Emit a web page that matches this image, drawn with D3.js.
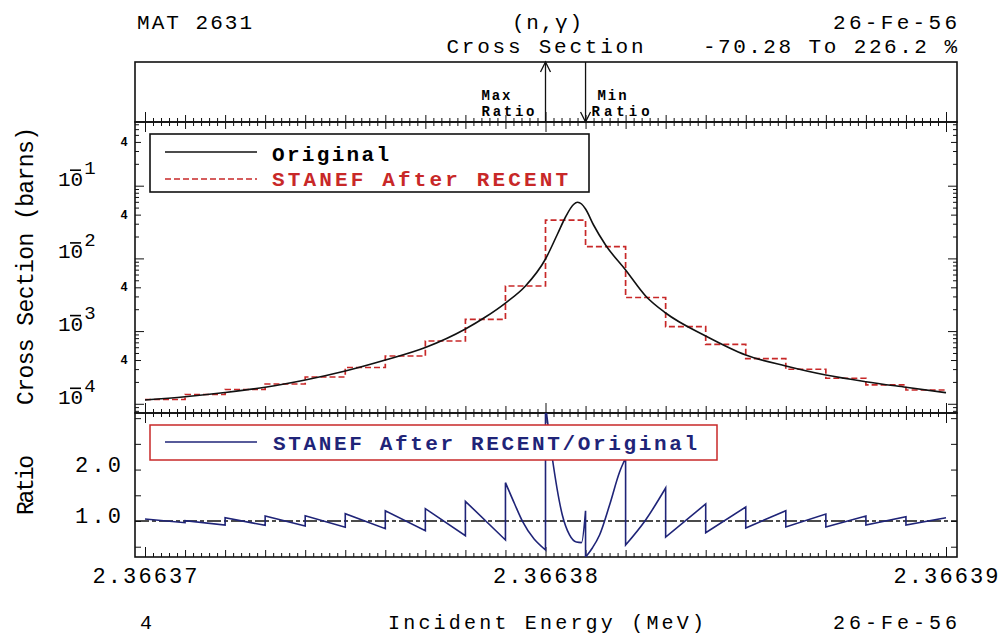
<!DOCTYPE html>
<html><head><meta charset="utf-8">
<script src="https://cdn.jsdelivr.net/npm/d3@7"></script>
<style>body{margin:0;background:#fff}</style>
</head><body><svg id="c" width="1003" height="640"></svg>
<script>
// ---------------- data ----------------
const headerLeft = "MAT 2631";
const headerReaction = "(n,\u03b3)";
const headerQuantity = "Cross Section";
const headerMaterial = "26-Fe-56";
const xTitle = "Incident Energy (MeV)";
const yTitleMain = "Cross Section (barns)";
const yTitleRatio = "Ratio";
const pageNumber = "4";

const energyTicks = [2.36637, 2.36638, 2.36639];
const energyTickLabels = ["2.36637", "2.36638", "2.36639"];
const xsDecades = [1e-1, 1e-2, 1e-3, 1e-4];
const xsDecadeExp = ["1", "2", "3", "4"];
const ratioTicks = [0.5, 1.0, 1.5, 2.0, 2.5, 3.0];
const ratioTickLabels = [[2.0, "2.0"], [1.0, "1.0"]];

// group structure of the STANEF (after RECENT) multigroup cross section
const groupEdges = [2.3663700, 2.3663710, 2.3663720, 2.3663730, 2.3663740, 2.3663750, 2.3663760,
  2.3663770, 2.3663780, 2.3663790, 2.3663800, 2.3663810, 2.3663820, 2.3663830, 2.3663840,
  2.3663850, 2.3663860, 2.3663870, 2.3663880, 2.3663890, 2.3663900];
const stanefXS = [1.146e-4, 1.343e-4, 1.573e-4, 1.872e-4, 2.337e-4, 3.155e-4, 4.545e-4, 7.31e-4,
  1.453e-3, 4.17e-3, 3.37e-2, 1.449e-2, 2.90e-3, 1.150e-3, 6.58e-4, 4.17e-4, 2.985e-4,
  2.244e-4, 1.815e-4, 1.549e-4];

// original pointwise cross section
const originalEnergy = [2.3663700, 2.3663710, 2.3663720, 2.3663730, 2.3663740, 2.3663750, 2.3663760,
  2.3663770, 2.3663780, 2.36637850, 2.3663790, 2.36637950, 2.3663800, 2.36638030, 2.36638050,
  2.36638070, 2.36638080, 2.36638090, 2.3663810, 2.36638120, 2.36638150, 2.3663820, 2.36638250,
  2.3663830, 2.3663840, 2.3663850, 2.3663860, 2.3663870, 2.3663880, 2.3663890, 2.3663900];
const originalXS = [1.128e-4, 1.252e-4, 1.430e-4, 1.687e-4, 2.125e-4, 2.827e-4, 4.004e-4,
  5.949e-4, 1.069e-3, 1.563e-3, 2.434e-3, 4.173e-3, 9.81e-3, 2.166e-2, 3.711e-2,
  5.512e-2, 5.910e-2, 5.60e-2, 4.78e-2, 2.880e-2, 1.529e-2, 6.925e-3, 3.040e-3,
  1.774e-3, 8.56e-4, 4.69e-4, 3.311e-4, 2.489e-4, 2.014e-4, 1.687e-4, 1.421e-4];

// ratio STANEF/Original, one list of [energy, ratio] per group
const ratioSegments = [
  [[2.3663700, 1.040], [2.3663710, 0.967]],
  [[2.3663710, 1.006], [2.3663720, 0.922]],
  [[2.3663720, 1.064], [2.3663730, 0.916]],
  [[2.3663730, 1.097], [2.3663740, 0.903]],
  [[2.3663740, 1.103], [2.3663750, 0.878]],
  [[2.3663750, 1.142], [2.3663760, 0.850]],
  [[2.3663760, 1.200], [2.3663770, 0.811]],
  [[2.3663770, 1.239], [2.3663780, 0.714]],
  [[2.3663780, 1.383], [2.3663790, 0.631]],
  [[2.3663790, 1.745], [2.36637923, 1.330], [2.36637943, 0.986], [2.3663800, 0.436]],
  [[2.3663800, 3.262], [2.36638017, 2.225], [2.36638042, 1.117], [2.36638060, 0.728],
   [2.36638077, 0.590], [2.36638090, 0.580], [2.3663810, 1.200]],
  [[2.3663810, 0.2972], [2.36638117, 0.475], [2.36638135, 0.728], [2.36638160, 1.311],
   [2.36638185, 1.953], [2.3663820, 2.225]],
  [[2.3663820, 0.533], [2.36638250, 1.020], [2.3663830, 1.642]],
  [[2.3663830, 0.689], [2.3663840, 1.331]],
  [[2.3663840, 0.773], [2.3663850, 1.272]],
  [[2.3663850, 0.864], [2.3663860, 1.200]],
  [[2.3663860, 0.883], [2.3663870, 1.136]],
  [[2.3663870, 0.883], [2.3663880, 1.097]],
  [[2.3663880, 0.922], [2.3663890, 1.084]],
  [[2.3663890, 0.922], [2.3663900, 1.064]]
];

// ---------------- layout ----------------
const W = 1003, H = 640;
const L = 135, R = 957, boxTop = 62, mainTop = 122, mainBot = 413, ratBot = 557;
const mono = "'Liberation Mono','DejaVu Sans Mono',monospace";
const cBlack = "#111", cRed = "#c82828", cNavy = "#1f2478";

const svg = d3.select("#c");
svg.append("rect").attr("width", W).attr("height", H).attr("fill", "#fff");

const x = d3.scaleLinear().domain([2.36637, 2.36639]).range([145, 946]);
const yMain = d3.scaleLog().domain([7.47e-5, 0.752]).range([mainBot, mainTop]);
const yR = d3.scaleLinear().domain([0.3, 3.1]).range([ratBot, mainBot]);

const defs = svg.append("defs");
defs.append("clipPath").attr("id", "clipMain").append("rect")
  .attr("x", L).attr("y", mainTop).attr("width", R - L).attr("height", mainBot - mainTop);
defs.append("clipPath").attr("id", "clipRat").append("rect")
  .attr("x", L).attr("y", mainBot).attr("width", R - L).attr("height", ratBot - mainBot);

function txt(s, o) {
  const t = svg.append("text").text(s).attr("font-family", mono).attr("fill", "#000");
  for (const k in o) t.attr(k, o[k]);
  return t;
}

// ---------------- header ----------------
txt(headerLeft, {x: 137, y: 29, "font-size": 21, textLength: 115, lengthAdjust: "spacing"});
txt(headerReaction, {x: 547, y: 29, "font-size": 21, "text-anchor": "middle", textLength: 70, lengthAdjust: "spacing"});
txt(headerMaterial, {x: 957, y: 29, "font-size": 21, "text-anchor": "end", textLength: 124, lengthAdjust: "spacing"});
txt(headerQuantity, {x: 545, y: 53, "font-size": 21, "text-anchor": "middle", textLength: 197, lengthAdjust: "spacing"});

const allR = ratioSegments.flat();
const maxPt = allR.reduce((a, b) => b[1] > a[1] ? b : a);
const minPt = allR.reduce((a, b) => b[1] < a[1] ? b : a);
const rangeText = ((minPt[1] - 1) * 100).toFixed(2) + " To " + ((maxPt[1] - 1) * 100).toFixed(1) + " %";
txt(rangeText, {x: 957, y: 53, "font-size": 21, "text-anchor": "end", textLength: 254, lengthAdjust: "spacing"});

// ---------------- frames ----------------
[[boxTop, mainTop], [mainTop, mainBot], [mainBot, ratBot]].forEach(([a, b]) => {
  svg.append("rect").attr("x", L).attr("y", a).attr("width", R - L).attr("height", b - a)
    .attr("fill", "none").attr("stroke", cBlack).attr("stroke-width", 1.6);
});

// ---------------- max/min ratio arrows ----------------
function arrow(xp, up) {
  const g = svg.append("g").attr("stroke", cBlack).attr("stroke-width", 1.3).attr("fill", "none");
  g.append("line").attr("x1", xp).attr("x2", xp).attr("y1", boxTop).attr("y2", mainTop);
  const tip = up ? boxTop : mainTop, s = up ? 1 : -1;
  g.append("path").attr("d", `M${xp - 5},${tip + s * 10}L${xp},${tip}L${xp + 5},${tip + s * 10}`);
}
const xMax = x(maxPt[0]), xMin = x(minPt[0]);
arrow(xMax, true);
arrow(xMin, false);
const lblFont = {"font-size": 14, "font-weight": "bold"};
txt("Max", Object.assign({x: xMax - 64, y: 100, textLength: 29, lengthAdjust: "spacing"}, lblFont));
txt("Ratio", Object.assign({x: xMax - 64, y: 116, textLength: 53, lengthAdjust: "spacing"}, lblFont));
txt("Min", Object.assign({x: xMin + 12, y: 100, textLength: 29, lengthAdjust: "spacing"}, lblFont));
txt("Ratio", Object.assign({x: xMin + 6, y: 116, textLength: 58, lengthAdjust: "spacing"}, lblFont));

// ---------------- x ticks ----------------
const minorE = d3.range(0, 101).map(i => 2.36637 + i * 2e-7).filter((d, i) => i % 5 !== 0);
const midE = d3.range(0, 21).map(i => 2.36637 + i * 1e-6).filter((d, i) => i % 10 !== 0);
function xTicks(yPos, up) {
  [[minorE, 4], [midE, 7], [energyTicks, 10]].forEach(([vals, len]) => {
    const ax = (up ? d3.axisTop(x) : d3.axisBottom(x)).tickValues(vals).tickSize(len).tickFormat("");
    const g = svg.append("g").attr("transform", `translate(0,${yPos})`).call(ax);
    g.select(".domain").remove();
    g.selectAll("line").attr("stroke", cBlack).attr("stroke-width", 1);
  });
}
xTicks(mainTop, true);
xTicks(mainTop, false);
xTicks(mainBot, true);
xTicks(mainBot, false);
xTicks(ratBot, true);

// ---------------- y ticks main (log) ----------------
const minorXS = [];
[-5, -4, -3, -2, -1].forEach(d => { for (let k = 2; k <= 9; k++) { const v = k * Math.pow(10, d); if (v > 7.47e-5 && v < 0.752) minorXS.push(v); } });
const fourXS = minorXS.filter(v => Math.abs(v / Math.pow(10, Math.floor(Math.log10(v) + 1e-9)) - 4) < 1e-6);
function yTicksMain(vals, len) {
  const gl = svg.append("g").attr("transform", `translate(${L},0)`)
    .call(d3.axisLeft(yMain).tickValues(vals).tickSize(-len).tickFormat(""));
  const gr = svg.append("g").attr("transform", `translate(${R},0)`)
    .call(d3.axisRight(yMain).tickValues(vals).tickSize(-len).tickFormat(""));
  [gl, gr].forEach(g => { g.select(".domain").remove(); g.selectAll("line").attr("stroke", cBlack).attr("stroke-width", 1); });
}
yTicksMain(minorXS.filter(v => !fourXS.includes(v)), 4);
yTicksMain(fourXS, 6);
yTicksMain(xsDecades, 9);

// decade labels: "10" with a raised exponent; the minus is drawn as a bar over the 0
xsDecades.forEach((v, i) => {
  const ty = yMain(v);
  const t = txt("", {x: 58, y: ty, "font-size": 21});
  t.append("tspan").text("10");
  t.append("tspan").attr("dx", 1).attr("dy", -12).attr("font-size", 19).text(xsDecadeExp[i]);
  svg.append("line").attr("x1", 70).attr("x2", 81).attr("y1", ty - 15.5).attr("y2", ty - 15.5)
    .attr("stroke", "#000").attr("stroke-width", 1.6);
});
fourXS.forEach(v => {
  txt("4", {x: 124, y: yMain(v) + 4, "font-size": 12, "font-weight": "bold", "text-anchor": "middle"});
});

// ---------------- y ticks ratio ----------------
{
  const gl = svg.append("g").attr("transform", `translate(${L},0)`)
    .call(d3.axisLeft(yR).tickValues(ratioTicks).tickSize(-6).tickFormat(""));
  const gr = svg.append("g").attr("transform", `translate(${R},0)`)
    .call(d3.axisRight(yR).tickValues(ratioTicks).tickSize(-6).tickFormat(""));
  [gl, gr].forEach(g => { g.select(".domain").remove(); g.selectAll("line").attr("stroke", cBlack).attr("stroke-width", 1); });
}
ratioTickLabels.forEach(([v, s]) => {
  txt(s, {x: 121, y: yR(v) + 2, "font-size": 22, "text-anchor": "end", textLength: 46, lengthAdjust: "spacing"});
});

// ---------------- x labels ----------------
energyTicks.forEach((v, i) => {
  txt(energyTickLabels[i], {x: x(v), y: 583, "font-size": 22, "text-anchor": "middle", textLength: 105, lengthAdjust: "spacing"});
});
txt(pageNumber, {x: 146, y: 629, "font-size": 20, "text-anchor": "middle"});
txt(xTitle, {x: 546, y: 629, "font-size": 20, "text-anchor": "middle", textLength: 316, lengthAdjust: "spacing"});
txt(headerMaterial, {x: 957, y: 629, "font-size": 20, "text-anchor": "end", textLength: 124, lengthAdjust: "spacing"});

// y titles
txt(yTitleMain, {transform: "translate(33,266) rotate(-90)", "font-size": 23, "text-anchor": "middle", textLength: 278, lengthAdjust: "spacing"});
txt(yTitleRatio, {transform: "translate(33,485) rotate(-90)", "font-size": 23, "text-anchor": "middle", textLength: 60, lengthAdjust: "spacing"});

// ---------------- data marks: main ----------------
const gMain = svg.append("g").attr("clip-path", "url(#clipMain)");
const stepData = stanefXS.map((v, i) => [groupEdges[i], v]).concat([[groupEdges[groupEdges.length - 1], stanefXS[stanefXS.length - 1]]]);
gMain.append("path")
  .attr("d", d3.line().x(d => x(d[0])).y(d => yMain(d[1])).curve(d3.curveStepAfter)(stepData))
  .attr("fill", "none").attr("stroke", cRed).attr("stroke-width", 1.7).attr("stroke-dasharray", "6,3");
gMain.append("path")
  .attr("d", d3.line().x((d, i) => x(originalEnergy[i])).y(d => yMain(d)).curve(d3.curveMonotoneX)(originalXS))
  .attr("fill", "none").attr("stroke", cBlack).attr("stroke-width", 1.6);

// legend main
svg.append("rect").attr("x", 150).attr("y", 134).attr("width", 439).attr("height", 58)
  .attr("fill", "#fff").attr("stroke", cBlack).attr("stroke-width", 1.6);
svg.append("line").attr("x1", 165).attr("x2", 257).attr("y1", 152).attr("y2", 152).attr("stroke", cBlack).attr("stroke-width", 1.5);
svg.append("line").attr("x1", 165).attr("x2", 257).attr("y1", 179).attr("y2", 179).attr("stroke", cRed).attr("stroke-width", 1.5).attr("stroke-dasharray", "6,3");
txt("Original", {x: 272, y: 161, "font-size": 21, "font-weight": "bold", textLength: 117, lengthAdjust: "spacing"});
txt("STANEF After RECENT", {x: 272, y: 186, "font-size": 21, "font-weight": "bold", fill: cRed, textLength: 296, lengthAdjust: "spacing"});

// ---------------- ratio panel ----------------
svg.append("line").attr("x1", L).attr("x2", R).attr("y1", yR(1)).attr("y2", yR(1))
  .attr("stroke", cBlack).attr("stroke-width", 1.3).attr("stroke-dasharray", "14,3,4,3");
const gRat = svg.append("g").attr("clip-path", "url(#clipRat)");
const lineR = d3.line().x(d => x(d[0])).y(d => yR(d[1])).curve(d3.curveMonotoneX);
const ratioPath = ratioSegments.map((seg, i) => { const s = lineR(seg); return i ? "L" + s.slice(1) : s; }).join("");
gRat.append("path").attr("d", ratioPath).attr("fill", "none").attr("stroke", cNavy).attr("stroke-width", 1.6);

// legend ratio
svg.append("rect").attr("x", 150).attr("y", 425).attr("width", 567).attr("height", 35)
  .attr("fill", "#fff").attr("stroke", cRed).attr("stroke-width", 1.5);
svg.append("line").attr("x1", 165).attr("x2", 257).attr("y1", 442).attr("y2", 442).attr("stroke", cNavy).attr("stroke-width", 1.5);
txt("STANEF After RECENT/Original", {x: 273, y: 450, "font-size": 21, "font-weight": "bold", fill: cNavy, textLength: 424, lengthAdjust: "spacing"});
</script>
</body></html>
